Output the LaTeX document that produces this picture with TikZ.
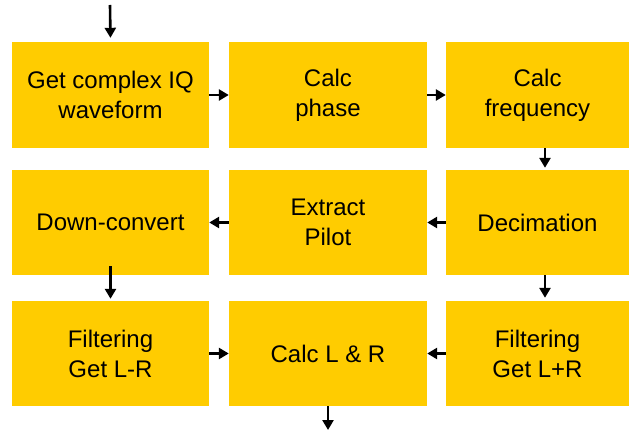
\documentclass[tikz,border=0pt]{standalone}
\usepackage{fontspec}
\setmainfont{Liberation Sans}
\usetikzlibrary{arrows.meta}
\definecolor{boxyellow}{HTML}{FFCC00}
\begin{document}
\begin{tikzpicture}[x=1pt,y=-1pt,
  box/.style={fill=boxyellow, draw=none, minimum width=#1, minimum height=106pt, inner sep=0pt,
    align=center, font=\fontsize{24}{30}\selectfont},
  box/.default=197pt,
  flow/.style={line width=2.6pt, -{Triangle[length=10pt,width=11pt]}}]
\useasboundingbox (0,0) rectangle (631,430);
% row 1
\node[box] (iq)   at (110.5,95) {Get complex IQ\\waveform};
\node[box=198pt] (ph) at (328,95) {Calc\\phase};
\node[box=183pt] (fr) at (537.5,95) {Calc\\frequency};
% row 2
\node[box, minimum height=105pt] (dc) at (110.5,222.5) {Down-convert};
\node[box=198pt, minimum height=105pt] (ep) at (328,222.5) {Extract\\Pilot};
\node[box=183pt, minimum height=105pt] (de) at (537.5,222.5) {Decimation};
% row 3
\node[box, minimum height=105pt] (fm) at (110.5,353.5) {Filtering\\Get L-R};
\node[box=198pt, minimum height=105pt] (lr) at (328,353.5) {Calc L \& R};
\node[box=183pt, minimum height=105pt] (fp) at (537.5,353.5) {Filtering\\Get L+R};
% free ends
\coordinate (in) at (110,5);
\coordinate (out) at (328,430);
% connectors
\draw[flow, shorten >=4pt] (in) -- (iq.north);
\draw[flow] (iq.east) -- (ph.west);
\draw[flow] (ph.east) -- (fr.west);
\draw[flow, shorten >=2pt] ([xshift=7.5pt]fr.south) -- ([xshift=7.5pt]de.north);
\draw[flow] (de.west) -- (ep.east);
\draw[flow] (ep.west) -- (dc.east);
\draw[flow, shorten >=3pt] ([xshift=7.5pt]de.south) -- ([xshift=7.5pt]fp.north);
\draw[flow, shorten <=-9pt, shorten >=2pt] (dc.south) -- (fm.north);
\draw[flow] (fm.east) -- (lr.west);
\draw[flow] (fp.west) -- (lr.east);
\draw[flow] (lr.south) -- (out);
\end{tikzpicture}
\end{document}
